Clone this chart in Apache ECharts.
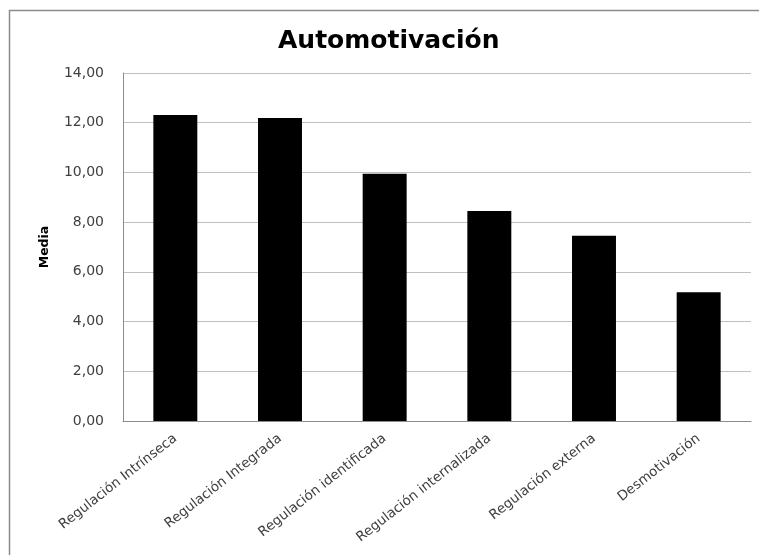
<!DOCTYPE html>
<html>
<head>
<meta charset="utf-8">
<script src="https://cdn.jsdelivr.net/npm/echarts@6/dist/echarts.min.js"></script>
<style>
html,body{margin:0;padding:0;background:#fff;}
#chart{width:759px;height:555px;}
</style>
</head>
<body>
<div id="chart"></div>
<script>
const categories = ["Regulación Intrínseca", "Regulación Integrada", "Regulación identificada", "Regulación internalizada", "Regulación externa", "Desmotivación"];
const values = [12.31, 12.19, 9.95, 8.45, 7.45, 5.18];
const titleText = "Automotivación";
const yAxisName = "Media";

const chart = echarts.init(document.getElementById('chart'), null, {renderer: 'canvas'});
chart.setOption({
  animation: false,
  backgroundColor: '#ffffff',
  graphic: [{
    type: 'rect',
    shape: {x: 9.5, y: 10.5, width: 800, height: 600},
    style: {fill: 'none', stroke: '#8c8c8c', lineWidth: 1.5},
    silent: true
  }],
  title: {
    text: titleText,
    left: 273,
    top: 24,
    textStyle: {fontFamily: 'DejaVu Sans', fontWeight: 'bold', fontSize: 25, color: '#000'}
  },
  grid: {left: 123, right: 8, top: 73, bottom: 134},
  xAxis: {
    type: 'category',
    data: categories,
    axisLine: {show: true, lineStyle: {color: '#8c8c8c', width: 1}},
    axisTick: {show: false},
    axisLabel: {
      rotate: 38,
      interval: 0,
      margin: 16,
      fontFamily: 'DejaVu Sans',
      fontSize: 13.5,
      color: '#404040'
    }
  },
  yAxis: {
    type: 'value',
    min: 0,
    max: 14,
    interval: 2,
    name: yAxisName,
    nameLocation: 'middle',
    nameRotate: 90,
    nameGap: 72,
    nameTextStyle: {fontFamily: 'DejaVu Sans', fontWeight: 'bold', fontSize: 12.5, color: '#000'},
    axisLine: {show: true, lineStyle: {color: '#8c8c8c', width: 1}},
    axisTick: {show: false},
    splitLine: {show: true, lineStyle: {color: '#bfbfbf', width: 1}},
    axisLabel: {
      margin: 19,
      fontFamily: 'DejaVu Sans',
      fontSize: 14,
      color: '#404040',
      formatter: v => v.toFixed(2).replace('.', ',')
    }
  },
  series: [{
    type: 'bar',
    data: values,
    barWidth: '42%',
    itemStyle: {color: '#000000'}
  }]
});
</script>
</body>
</html>
